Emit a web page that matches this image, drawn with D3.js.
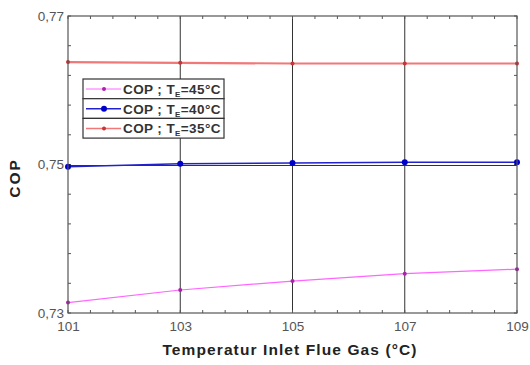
<!DOCTYPE html>
<html>
<head>
<meta charset="utf-8">
<script src="https://cdn.jsdelivr.net/npm/d3@7"></script>
<style>
  body { margin: 0; background: #fff; }
  svg { font-family: "Liberation Sans", Arial, sans-serif; }
</style>
</head>
<body>
<svg width="530" height="365"></svg>
<script>
const temps = [101, 103, 105, 107, 109];
const cop45 = [0.7314, 0.7331, 0.7343, 0.7353, 0.7359];
const cop40 = [0.7497, 0.7501, 0.7502, 0.7503, 0.7503];
const cop35 = [0.7638, 0.7637, 0.7636, 0.7636, 0.7636];
const legendLabels = ['45°C', '40°C', '35°C'];
const xTicks = [101, 103, 105, 107, 109];
const yTicks = [0.73, 0.75, 0.77];

const svg = d3.select('svg');
const x = d3.scaleLinear().domain([101, 109]).range([68, 517]);
const y = d3.scaleLinear().domain([0.73, 0.77]).range([313, 16]);

const series = [
  {vals: cop45, line: '#ff66ff', mark: '#aa22aa', w: 1.2, r: 2},
  {vals: cop40, line: '#2222cc', mark: '#0000cc', w: 1.5, r: 3},
  {vals: cop35, line: '#f07878', mark: '#cc3333', w: 2.2, r: 2}
];

// grid
const grid = svg.append('g').attr('stroke', '#333').attr('stroke-width', 1);
[103, 105, 107].forEach(t => {
  grid.append('line').attr('x1', x(t)).attr('x2', x(t)).attr('y1', y(0.73)).attr('y2', y(0.77));
});
grid.append('line').attr('x1', x(101)).attr('x2', x(109)).attr('y1', y(0.75) + 1).attr('y2', y(0.75) + 1);

// minor ticks
const ticks = svg.append('g').attr('stroke', '#555').attr('stroke-width', 1);
d3.range(101, 109.01, 0.4).forEach(t => {
  ticks.append('line').attr('x1', x(t)).attr('x2', x(t)).attr('y1', y(0.73)).attr('y2', y(0.73) - 3);
  ticks.append('line').attr('x1', x(t)).attr('x2', x(t)).attr('y1', y(0.77)).attr('y2', y(0.77) + 3);
});
d3.range(0.73, 0.7701, 0.004).forEach(v => {
  ticks.append('line').attr('x1', x(101)).attr('x2', x(101) + 3).attr('y1', y(v)).attr('y2', y(v));
  ticks.append('line').attr('x1', x(109)).attr('x2', x(109) - 3).attr('y1', y(v)).attr('y2', y(v));
});

// lines
const line = d3.line().x((d, i) => x(temps[i])).y(d => y(d));
series.forEach(s => {
  svg.append('path').attr('d', line(s.vals)).attr('fill', 'none')
    .attr('stroke', s.line).attr('stroke-width', s.w);
  svg.selectAll(null).data(s.vals).enter().append('circle')
    .attr('cx', (d, i) => x(temps[i])).attr('cy', d => y(d))
    .attr('r', s.r).attr('fill', s.mark);
});

// frame
svg.append('rect').attr('x', x(101)).attr('y', y(0.77))
  .attr('width', x(109) - x(101)).attr('height', y(0.73) - y(0.77))
  .attr('fill', 'none').attr('stroke', '#555').attr('stroke-width', 1.2);

// axes labels
const xAxis = d3.axisBottom(x).tickValues(xTicks).tickSize(0).tickPadding(8).tickFormat(d3.format('d'));
const gx = svg.append('g').attr('transform', `translate(0,${y(0.73)})`).call(xAxis);
gx.select('.domain').remove();
gx.selectAll('text').attr('font-size', 13.5).attr('fill', '#555');

const yAxis = d3.axisLeft(y).tickValues(yTicks).tickSize(0).tickPadding(4)
  .tickFormat(d => d3.format('.2f')(d).replace('.', ','));
const gy = svg.append('g').attr('transform', `translate(${x(101)},0)`).call(yAxis);
gy.select('.domain').remove();
gy.selectAll('text').attr('font-size', 13.5).attr('fill', '#555');

svg.append('text').attr('x', 290).attr('y', 355).attr('text-anchor', 'middle')
  .attr('font-size', 15.5).attr('font-weight', 'bold').attr('fill', '#222')
  .attr('letter-spacing', 1.1).text('Temperatur Inlet Flue Gas (°C)');
svg.append('text').attr('transform', 'translate(20,178) rotate(-90)').attr('text-anchor', 'middle')
  .attr('font-size', 15.5).attr('font-weight', 'bold').attr('fill', '#222')
  .attr('letter-spacing', 2).text('COP');

// legend
const lg = svg.append('g').attr('transform', 'translate(83,79)');
series.forEach((s, i) => {
  const row = lg.append('g').attr('transform', `translate(0,${i * 19.7})`);
  row.append('rect').attr('width', 141).attr('height', 19.7).attr('fill', '#fff')
    .attr('stroke', '#333').attr('stroke-width', 1.2);
  row.append('line').attr('x1', 3).attr('x2', 38).attr('y1', 10).attr('y2', 10)
    .attr('stroke', s.line).attr('stroke-width', Math.min(s.w, 1.5));
  row.append('circle').attr('cx', 21).attr('cy', 10).attr('r', s.r).attr('fill', s.mark);
  const t = row.append('text').attr('x', 40).attr('y', 15).attr('font-size', 13.5)
    .attr('font-weight', 'bold').attr('fill', '#333').attr('letter-spacing', 0.4);
  t.append('tspan').text('COP ; T');
  t.append('tspan').attr('font-size', 8).attr('dy', 3).text('E');
  t.append('tspan').attr('dy', -3).text('=' + legendLabels[i]);
});
</script>
</body>
</html>
